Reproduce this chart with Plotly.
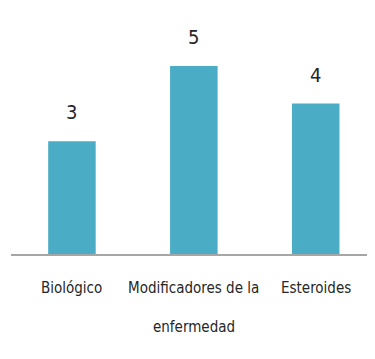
import plotly.graph_objects as go

categories = ["Biológico", "Modificadores de la enfermedad", "Esteroides"]
label_line1 = ["Biológico", "Modificadores de la", "Esteroides"]
label_line2 = ["", "enfermedad", ""]
values = [3, 5, 4]

FONT = "Liberation Sans Narrow, DejaVu Sans Condensed, Roboto Condensed, Arial Narrow, sans-serif"
TXT = "#262626"

fig = go.Figure(go.Bar(
    x=categories, y=values,
    marker=dict(color="#4BACC6", line=dict(width=0)),
    width=0.39,
    hoverinfo="skip",
))

ann = []
for c, v in zip(categories, values):
    ann.append(dict(x=c, y=v, xref="x", yref="y", text=str(v), showarrow=False,
                    yanchor="bottom", yshift=15, font=dict(size=20, color=TXT, family=FONT)))
for c, l1, l2 in zip(categories, label_line1, label_line2):
    ann.append(dict(x=c, y=0, xref="x", yref="paper", text=l1, showarrow=False,
                    yanchor="middle", yshift=-34, font=dict(size=15, color=TXT, family=FONT)))
    if l2:
        ann.append(dict(x=c, y=0, xref="x", yref="paper", text=l2, showarrow=False,
                        yanchor="middle", yshift=-73, font=dict(size=15, color=TXT, family=FONT)))

fig.update_layout(
    width=367, height=351,
    margin=dict(l=3, r=2, t=12, b=105),
    paper_bgcolor="white", plot_bgcolor="white",
    showlegend=False,
    annotations=ann,
    xaxis=dict(range=[-0.5, 2.47], showticklabels=False, ticks="", showgrid=False,
               showline=True, linecolor="#a6a6a6", linewidth=2, zeroline=False),
    yaxis=dict(range=[0, 6.22], visible=False, showgrid=False, zeroline=False),
)

fig.write_html("out.html")
